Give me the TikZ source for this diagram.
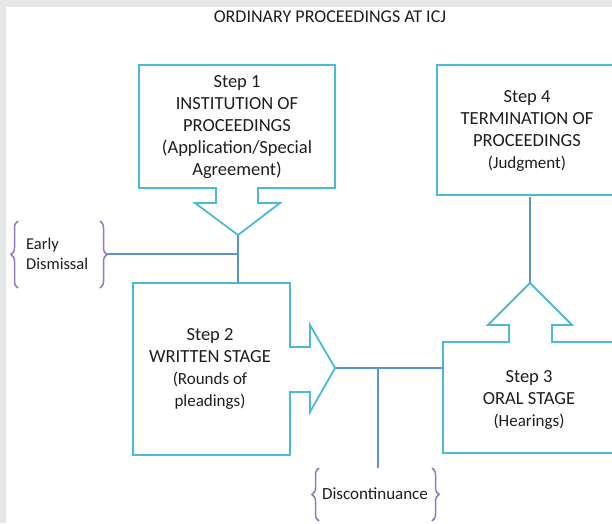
\documentclass[tikz,border=0pt]{standalone}
\usepackage{fontspec}
\setmainfont{Carlito}
\usetikzlibrary{decorations.pathreplacing}
\definecolor{boxc}{HTML}{4BBAD6}
\definecolor{linec}{HTML}{5B93D6}
\definecolor{bracec}{HTML}{9378BE}
\definecolor{txt}{HTML}{1E1E1E}
\definecolor{bgc}{HTML}{E6E7E9}
\tikzset{
  boxshape/.style={draw=boxc, line width=1.8pt, fill=white, line join=miter},
  conn/.style={draw=linec, line width=1.4pt},
  bracepath/.style={draw=bracec, line width=1.5pt, decorate, decoration={brace, amplitude=7pt}},
  lbl/.style={text=txt, align=center, inner sep=0pt, font=\fontsize{18.5}{22}\selectfont}
}
\newcommand{\subt}[1]{{\fontsize{17}{21}\selectfont #1}}
\begin{document}
\begin{tikzpicture}[x=1pt,y=-1pt]
\useasboundingbox (0,0) rectangle (612,523);
\fill[bgc] (0,0) rectangle (612,523);
\fill[white] (6,7) rectangle (612,523);

% title
\node[lbl, font=\fontsize{18}{22}\selectfont] (title) at (330,17) {ORDINARY PROCEEDINGS AT ICJ};

% Step 1 box with down arrow
\path[boxshape] (139,65) -- (335,65) -- (335,188) -- (258,188) -- (258,203) -- (280,203)
  -- (238,235) -- (195,203) -- (216,203) -- (216,188) -- (139,188) -- cycle;
\coordinate (s1tip) at (238,235);
\node[lbl] (s1) at (237,127) {Step 1\\INSTITUTION OF\\PROCEEDINGS\\(Application/Special\\Agreement)};

% Step 2 box with right arrow
\path[boxshape] (133,283) -- (290,283) -- (290,347) -- (310,347) -- (310,325) -- (335,368)
  -- (310,412) -- (310,392) -- (290,392) -- (290,455) -- (133,455) -- cycle;
\coordinate (s2top) at (238,283);
\coordinate (s2tip) at (335,368);
\node[lbl] (s2) at (210,369) {Step 2\\WRITTEN STAGE\\\subt{(Rounds of}\\\subt{pleadings)}};

% Step 3 box with up arrow
\path[boxshape] (620,342) -- (552,342) -- (552,325) -- (572,325) -- (530,283) -- (488,325)
  -- (509,325) -- (509,342) -- (443,342) -- (443,453) -- (620,453);
\coordinate (s3left) at (443,368);
\coordinate (s3tip) at (530,283);
\node[lbl] (s3) at (529,400) {Step 3\\ORAL STAGE\\\subt{(Hearings)}};

% Step 4 box
\path[boxshape] (620,65) -- (437,65) -- (437,195) -- (620,195);
\coordinate (s4bot) at (530,197);
\node[lbl] (s4) at (527,131) {Step 4\\TERMINATION OF\\PROCEEDINGS\\\subt{(Judgment)}};

% Early dismissal
\node[lbl, align=left, font=\fontsize{16.5}{20}\selectfont, anchor=west] (ed) at (26,254) {Early\\Dismissal};
\draw[bracepath] (18,288) -- (18,221);
\draw[bracepath] (100,221) -- (100,288);
\coordinate (edr) at (107,254);

% Discontinuance
\node[lbl, font=\fontsize{17}{20}\selectfont] (disc) at (375,494) {Discontinuance};
\draw[bracepath] (319,521) -- (319,468);
\draw[bracepath] (432,468) -- (432,521);
\coordinate (disctop) at (378,468);

% connectors
\draw[conn] (s1tip) -- (s2top);
\draw[conn] (edr) -- (s1tip |- edr);
\draw[conn] (s2tip) -- (s3left);
\draw[conn] (s2tip -| disctop) -- (disctop);
\draw[conn] (s4bot) -- (s3tip);
\end{tikzpicture}
\end{document}
